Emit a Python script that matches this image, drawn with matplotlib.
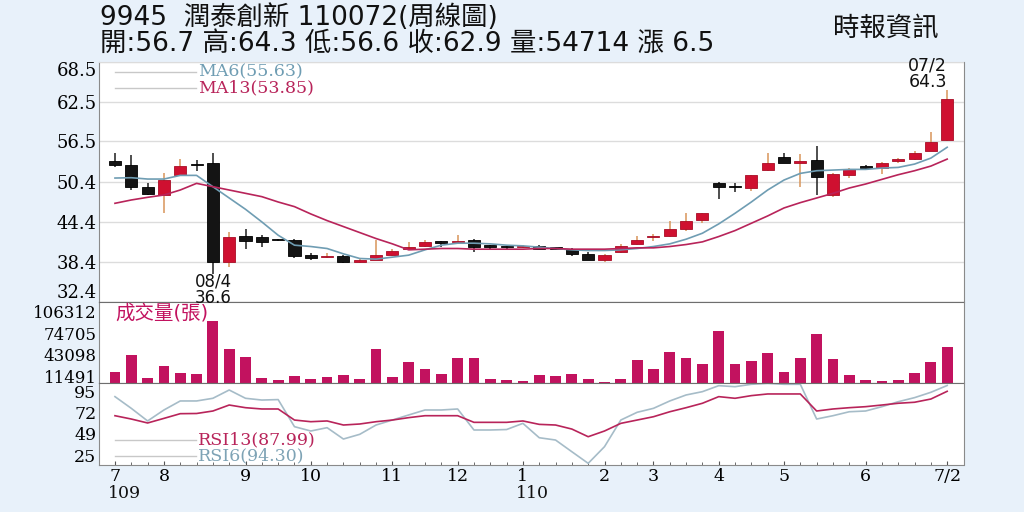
import numpy as np
import matplotlib
matplotlib.use('Agg')
import matplotlib.pyplot as plt
from matplotlib.lines import Line2D
import matplotlib.transforms as mtransforms

# weekly OHLC, 2020/07 .. 2021/07/02
opens = [53.5, 53.0, 49.6, 48.5, 51.4, 53.0, 53.2, 38.4, 42.3, 42.2,
         41.75, 41.7, 39.4, 39.1, 39.3, 38.3, 38.7, 39.4, 40.3, 40.8,
         41.5, 41.4, 41.7, 40.8, 40.65, 40.6, 40.8, 40.5, 40.3, 39.5,
         38.7, 39.9, 41.1, 42.1, 42.3, 43.3, 44.7, 50.3, 49.65, 49.5,
         52.2, 54.2, 53.3, 53.7, 48.4, 51.4, 52.8, 52.5, 53.6, 53.8,
         55.1, 56.7]
highs = [54.7, 54.5, 50.3, 51.7, 53.8, 53.7, 54.8, 42.9, 43.3, 42.4,
         41.9, 41.9, 39.7, 39.7, 39.4, 38.9, 41.7, 40.4, 41.4, 41.7,
         41.6, 42.5, 41.9, 41.0, 41.0, 40.9, 40.9, 40.7, 40.5, 39.9,
         39.5, 41.1, 42.3, 42.6, 44.6, 45.8, 45.8, 50.4, 50.2, 51.5,
         54.8, 54.8, 54.6, 55.8, 51.7, 52.5, 52.9, 53.4, 54.0, 55.0,
         58.0, 64.3]
lows = [52.7, 49.2, 48.4, 45.8, 51.4, 52.1, 36.6, 37.6, 40.4, 40.7,
        41.5, 38.9, 38.6, 39.0, 38.2, 38.2, 38.6, 39.2, 40.2, 40.7,
        40.7, 41.1, 39.9, 40.3, 40.2, 40.5, 40.3, 40.2, 39.3, 38.7,
        38.4, 39.8, 41.0, 41.6, 42.2, 43.1, 44.2, 47.8, 48.9, 49.1,
        52.0, 53.2, 49.7, 48.4, 48.2, 51.0, 52.3, 51.6, 53.2, 53.7,
        55.0, 56.6]
closes = [53.0, 49.6, 48.6, 50.7, 52.8, 52.9, 38.3, 42.2, 41.5, 41.4,
          41.7, 39.3, 38.9, 39.3, 38.3, 38.7, 39.4, 40.1, 40.7, 41.4,
          41.3, 41.5, 40.7, 40.7, 40.6, 40.8, 40.4, 40.4, 39.6, 38.7,
          39.4, 40.8, 41.7, 42.2, 43.3, 44.5, 45.7, 49.6, 49.6, 51.4,
          53.2, 53.2, 53.5, 51.1, 51.6, 52.4, 52.5, 53.2, 53.9, 54.8,
          56.4, 62.9]

ma6 = [51.0, 51.05, 50.85, 50.85, 51.4, 51.4, 49.7, 48.0, 46.3, 44.4,
       42.4, 40.9, 40.7, 40.4, 39.6, 38.9, 38.8, 39.1, 39.4, 40.2,
       40.9, 41.2, 41.2, 41.1, 40.9, 40.8, 40.6, 40.4, 40.2, 40.1,
       40.1, 40.2, 40.4, 40.7, 41.1, 41.8, 42.7, 44.1, 45.7, 47.4,
       49.2, 50.7, 51.7, 52.1, 52.2, 52.3, 52.3, 52.5, 52.6, 53.1,
       54.0, 55.63]
ma13 = [47.2, 47.7, 48.1, 48.45, 49.2, 50.2, 49.7, 49.2, 48.7, 48.2,
        47.4, 46.7, 45.6, 44.6, 43.7, 42.8, 41.9, 41.1, 40.2, 40.3,
        40.4, 40.4, 40.3, 40.3, 40.3, 40.3, 40.4, 40.4, 40.3, 40.3,
        40.3, 40.4, 40.5, 40.5, 40.7, 41.0, 41.4, 42.2, 43.1, 44.2,
        45.3, 46.5, 47.3, 48.0, 48.7, 49.5, 50.1, 50.8, 51.5, 52.1,
        52.8, 53.85]

volumes = [17750, 43140, 8120, 26070, 15850, 14830, 93180, 51890, 39200, 9000,
           5200, 11480, 6660, 10460, 12500, 6660, 51890, 9580, 31470, 21690,
           14830, 38180, 38180, 6660, 5640, 4620, 12500, 11480, 14400, 6660,
           2720, 7540, 34380, 21690, 46490, 37740, 29420, 77570, 29420, 33800,
           46060, 16880, 38760, 72760, 36280, 12940, 5200, 3740, 5640, 15420,
           31470, 54714]

rsi6 = [82.2, 69.5, 55.8, 67.7, 77.5, 77.5, 80.4, 89.4, 80.4, 78.5,
        79.0, 49.6, 44.9, 48.5, 36.2, 41.3, 51.4, 56.8, 62.3, 67.7,
        67.7, 68.8, 46.0, 46.0, 46.5, 53.2, 37.6, 35.1, 22.4, 9.8,
        27.9, 56.8, 65.2, 69.5, 77.5, 84.0, 87.6, 94.1, 93.0, 95.6,
        96.6, 95.6, 95.6, 57.9, 61.5, 65.8, 66.6, 71.3, 76.7, 81.1,
        86.9, 94.3]
rsi13 = [61.5, 57.9, 53.6, 58.6, 63.7, 63.9, 66.6, 73.1, 70.2, 68.8,
         68.8, 56.8, 55.0, 55.8, 51.4, 52.5, 55.0, 56.8, 59.4, 61.5,
         61.5, 61.5, 54.3, 54.3, 54.3, 55.8, 52.1, 51.4, 47.0, 38.7,
         44.9, 53.2, 56.8, 60.4, 65.8, 70.2, 75.0, 82.2, 80.4, 83.3,
         85.1, 85.1, 85.1, 66.6, 68.8, 70.2, 71.3, 73.1, 75.0, 76.1,
         79.6, 87.99]

price_ticks = [32.4, 38.4, 44.4, 50.4, 56.5, 62.5, 68.5]
vol_ticks = [11491, 43098, 74705, 106312]
rsi_ticks = [25, 49, 72, 95]
month_pos = [0, 3, 8, 12, 17, 21, 25, 30, 33, 37, 41, 46, 51]
month_labels = ['7', '8', '9', '10', '11', '12', '1', '2', '3', '4', '5', '6', '7/2']
year_pos = [0, 25]
year_labels = ['109', '110']

BG = '#e8f1fa'
UP = '#cf1030'
DOWN = '#141414'
PINK = '#b8245a'
BLUE = '#6f9db3'
VOLC = '#c2125f'
SERIF = 'DejaVu Serif'
CJK = ['DejaVu Sans', 'Noto Sans CJK TC']

fig = plt.figure(figsize=(10.24, 5.12), dpi=100, facecolor=BG)

def box(top, bottom):
    # pixel rows -> figure fraction
    return [99.3 / 1024, 1 - bottom / 512, (963.5 - 99.3) / 1024, (bottom - top) / 512]

ax_p = fig.add_axes(box(61.7, 301.7))
ax_v = fig.add_axes(box(301.7, 383), sharex=ax_p)
ax_r = fig.add_axes(box(383, 465), sharex=ax_p)

n = len(closes)
x = np.arange(n)
o = np.array(opens); c = np.array(closes)
h = np.array(highs); l = np.array(lows)
up = c >= o

# price panel
for t in price_ticks:
    ax_p.axhline(t, color='#dcdcdc', lw=1, zorder=0)
wick_cols = np.where(up, '#d8955a', '#1e1e1e')
ax_p.vlines(x, l, h, colors=wick_cols, lw=1.1, zorder=2)
body_bot = np.minimum(o, c)
body_h = np.maximum(np.abs(c - o), 0.18)
ax_p.bar(x, body_h, bottom=body_bot, width=0.74,
         color=np.where(up, UP, DOWN), edgecolor=np.where(up, '#a80c25', '#000000'),
         lw=0.6, zorder=3)
ax_p.plot(x, ma6, color=BLUE, lw=1.2, zorder=4)
ax_p.plot(x, ma13, color=PINK, lw=1.2, zorder=4)
ax_p.set_ylim(32.4, 68.5)
ax_p.set_yticks(price_ticks)
ax_p.set_yticklabels([f'{t:.1f}' for t in price_ticks])
ax_p.get_yaxis().get_major_ticks()[-1].label1.set_va('top')
ax_p.get_yaxis().get_major_ticks()[0].label1.set_va('bottom')

# volume panel
ax_v.bar(x, volumes, width=0.66, color=VOLC, zorder=2)
ax_v.set_ylim(1264, 120900)
ax_v.set_yticks(vol_ticks)
ax_v.set_yticklabels([str(t) for t in vol_ticks])

# rsi panel
ax_r.plot(x, rsi6, color='#a6bcc8', lw=1.2)
ax_r.plot(x, rsi13, color=PINK, lw=1.2)
ax_r.set_ylim(8, 97)
ax_r.set_yticks(rsi_ticks)
ax_r.set_yticklabels([str(t) for t in rsi_ticks])
for tk in ax_r.get_yaxis().get_major_ticks():
    tk.label1.set_va('top')

ax_p.set_xlim(-0.96, 52.0)
for ax, fs in ((ax_p, 13), (ax_v, 12), (ax_r, 12.5)):
    ax.set_facecolor('white')
    ax.tick_params(axis='y', length=0, pad=2, labelsize=fs)
    for lab in ax.get_yticklabels():
        lab.set_fontfamily(SERIF)
    for s in ('left', 'right', 'bottom'):
        ax.spines[s].set_color('#8a8a8a')
    ax.spines['top'].set_color('#dcdcdc')
ax_v.spines['top'].set_color('#6e6e6e')
ax_r.spines['top'].set_color('#6e6e6e')
ax_p.spines['bottom'].set_color('#6e6e6e')
ax_v.spines['bottom'].set_color('#6e6e6e')
ax_p.tick_params(axis='x', bottom=False, labelbottom=False)
ax_v.tick_params(axis='x', bottom=False, labelbottom=False)
# keep the top RSI label clear of the lowest volume label
ax_r.get_yaxis().get_major_ticks()[-1].label1.set_y(95.8)
ax_v.get_yaxis().get_major_ticks()[0].label1.set_va('center_baseline')

ax_r.set_xticks(month_pos)
ax_r.set_xticklabels(month_labels, fontfamily=SERIF, fontsize=12.5)
ax_r.set_xticks(x, minor=True)
ax_r.tick_params(axis='x', which='major', direction='in', length=3, pad=2, color='#555555')
ax_r.tick_params(axis='x', which='minor', direction='in', length=2, color='#555555')
ax_r.tick_params(axis='x', which='both', top=False)
tr = mtransforms.blended_transform_factory(ax_r.transData, fig.transFigure)
for p, lab in zip(year_pos, year_labels):
    ax_r.text(p - 0.45, 1 - 494 / 512, lab, transform=tr, ha='left', va='center',
              fontfamily=SERIF, fontsize=12.5, color='#111111')

# legends drawn in pixel coordinates
def fx(px):
    return px / 1024

def fy(py):
    return 1 - py / 512

for py, txt, col in [(72, 'MA6(55.63)', BLUE), (88, 'MA13(53.85)', PINK),
                     (440, 'RSI13(87.99)', PINK), (456, 'RSI6(94.30)', '#7ea3b5')]:
    fig.add_artist(Line2D([fx(115), fx(196)], [fy(py), fy(py)], color='#c8c8c8', lw=1))
    fig.text(fx(198), fy(py), txt, color=col, fontfamily=SERIF, fontsize=12.5,
             ha='left', va='center')

fig.text(fx(115), fy(313), '成交量(張)', color=VOLC, fontfamily=CJK, fontsize=14,
         ha='left', va='center', zorder=10)

# low / high annotations
fig.text(fx(213), fy(282), '08/4', fontsize=12, ha='center', va='center', color='#111111')
fig.text(fx(213), fy(298), '36.6', fontsize=12, ha='center', va='center', color='#111111', zorder=10)
fig.text(fx(947), fy(65), '07/2', fontsize=12.5, ha='right', va='center', color='#111111')
fig.text(fx(947), fy(82), '64.3', fontsize=12.5, ha='right', va='center', color='#111111')

# header
fig.text(fx(100), fy(18), '9945  潤泰創新 110072(周線圖)', fontfamily=CJK, fontsize=19,
         ha='left', va='center', color='#111111')
fig.text(fx(100), fy(45), '開:56.7 高:64.3 低:56.6 收:62.9 量:54714 漲 6.5', fontfamily=CJK,
         fontsize=19, ha='left', va='center', color='#111111')
fig.text(fx(833), fy(29), '時報資訊', fontfamily=CJK, fontsize=19, ha='left', va='center',
         color='#111111')

fig.savefig('out.png', dpi=100, facecolor=BG)
